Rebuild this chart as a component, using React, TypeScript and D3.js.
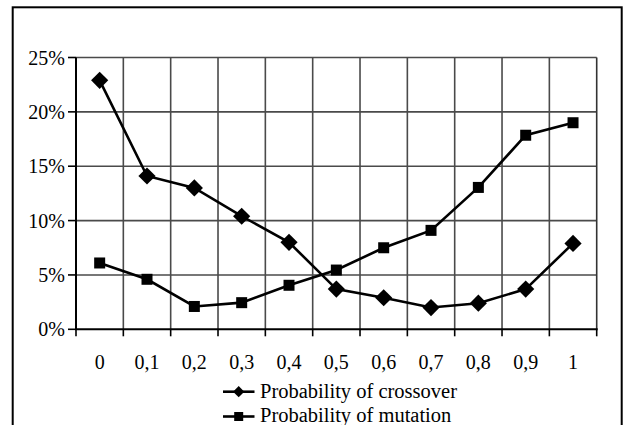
import React from "react";
import * as d3 from "d3";

const categories = ["0", "0,1", "0,2", "0,3", "0,4", "0,5", "0,6", "0,7", "0,8", "0,9", "1"];
const crossover = [22.9, 14.1, 13.0, 10.4, 8.0, 3.7, 2.9, 2.0, 2.4, 3.7, 7.9];
const mutation = [6.1, 4.6, 2.1, 2.45, 4.05, 5.45, 7.5, 9.1, 13.05, 17.85, 19.0];
const yTicks = [0, 5, 10, 15, 20, 25];
const seriesNames = ["Probability of crossover", "Probability of mutation"];

const W = 629;
const H = 425;
const left = 76;
const right = 596.7;
const top = 57.5;
const bottom = 329.3;
const FONT = "Liberation Serif, Tinos, Times New Roman, Times, DejaVu Serif, serif";

export default function App() {
  const x = d3.scaleBand<string>().domain(categories).range([left, right]).padding(0);
  const y = d3.scaleLinear().domain([0, 25]).range([bottom, top]);
  const cx = (i: number) => (x(categories[i]) as number) + x.bandwidth() / 2;
  const line = d3
    .line<number>()
    .x((_, i) => cx(i))
    .y((d) => y(d));

  const boundaries = categories.map((c) => x(c) as number).concat([right]);

  const diamond = (px: number, py: number, r: number) =>
    `M${px},${py - r}L${px + r},${py}L${px},${py + r}L${px - r},${py}Z`;

  const legendY = [391.7, 416.5];
  const legendBase = [398, 422];
  const textStyle = { fontFamily: FONT } as React.CSSProperties;

  return (
    <svg
      width={W}
      height={H}
      style={{ position: "absolute", left: 0, top: 0, display: "block", background: "#fff" }}
    >
      <rect x={0} y={0} width={W} height={H} fill="#fff" />
      {/* outer frame */}
      <rect x={12.7} y={7.3} width={609} height={440} fill="none" stroke="#000" strokeWidth={2} />

      {/* horizontal gridlines */}
      {yTicks.filter((t) => t > 0).map((t) => (
        <line key={"h" + t} x1={left} x2={right} y1={y(t)} y2={y(t)} stroke="#4a4a4a" strokeWidth={1.6} />
      ))}
      {/* vertical gridlines */}
      {boundaries.slice(1).map((b, i) => (
        <line key={"v" + i} x1={b} x2={b} y1={top} y2={bottom} stroke={i === boundaries.length - 2 ? "#333" : "#4a4a4a"} strokeWidth={1.6} />
      ))}
      {/* axes */}
      <line x1={left} x2={left} y1={top} y2={bottom} stroke="#000" strokeWidth={2} />
      <line x1={left - 1} x2={right + 1} y1={bottom} y2={bottom} stroke="#000" strokeWidth={2} />
      {/* y ticks */}
      {yTicks.map((t) => (
        <g key={"yt" + t}>
          <line x1={left - 8} x2={left} y1={y(t)} y2={y(t)} stroke="#000" strokeWidth={1.6} />
          <text
            x={65}
            y={y(t)}
            dy="0.35em"
            textAnchor="end"
            style={textStyle}
            fontSize={20}
            fill="#000"
          >
            {t + "%"}
          </text>
        </g>
      ))}
      {/* x ticks */}
      {boundaries.map((b, i) => (
        <line key={"xt" + i} x1={b} x2={b} y1={bottom} y2={bottom + 7} stroke="#000" strokeWidth={1.6} />
      ))}
      {categories.map((c, i) => (
        <text key={"xl" + c} x={cx(i)} y={369} textAnchor="middle" style={textStyle} fontSize={20} fill="#000">
          {c}
        </text>
      ))}

      {/* series lines */}
      <path d={line(crossover) || ""} fill="none" stroke="#000" strokeWidth={2.6} />
      <path d={line(mutation) || ""} fill="none" stroke="#000" strokeWidth={2.6} />
      {crossover.map((v, i) => (
        <path key={"c" + i} d={diamond(cx(i), y(v), 8.6)} fill="#000" />
      ))}
      {mutation.map((v, i) => (
        <rect key={"m" + i} x={cx(i) - 5.5} y={y(v) - 5.5} width={11} height={11} fill="#000" />
      ))}

      {/* legend */}
      {seriesNames.map((n, i) => (
        <g key={"lg" + i}>
          <line x1={223} x2={254.5} y1={legendY[i]} y2={legendY[i]} stroke="#000" strokeWidth={2.6} />
          {i === 0 ? (
            <path d={diamond(238.7, legendY[i], 5.6)} fill="#000" />
          ) : (
            <rect x={238.7 - 4.5} y={legendY[i] - 4.5} width={9} height={9} fill="#000" />
          )}
          <text x={260} y={legendBase[i]} style={textStyle} fontSize={20.5} fill="#000">
            {n}
          </text>
        </g>
      ))}
    </svg>
  );
}
